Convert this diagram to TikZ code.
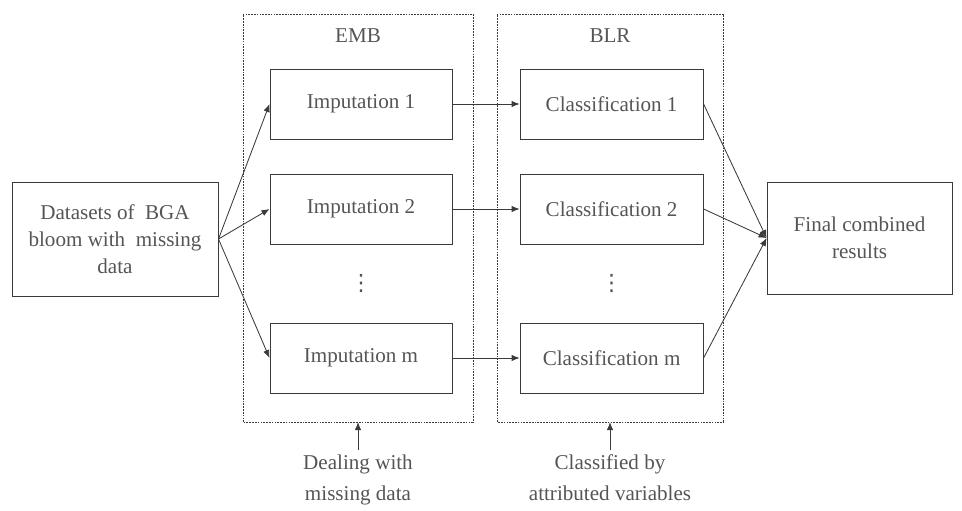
\documentclass[tikz,border=0pt]{standalone}
\usepackage{fontspec}
\setmainfont{Liberation Serif}
\newfontfamily\symfont{DejaVu Sans}
\usetikzlibrary{positioning, arrows.meta, calc}
\usepackage{xcolor}
\definecolor{lineg}{HTML}{3A3A3A}
\definecolor{textg}{HTML}{555555}

\begin{document}
\begin{tikzpicture}[
        box/.style={draw=lineg, line width=0.7pt, text=textg, font=\fontsize{15}{19}\selectfont, align=center, minimum width=4.55cm, minimum height=1.75cm},
        grp/.style={draw=lineg, line width=0.5pt, dash pattern=on 1.2pt off 0.8pt},
        lbl/.style={text=textg, font=\fontsize{15}{22}\selectfont, align=center},
        arr/.style={draw=lineg, line width=0.6pt, -{Latex[length=2mm, width=1.6mm]}}]
      \useasboundingbox (0,0) rectangle (24.05,12.75);
      % dashed groups
      \draw[grp] (6.075,2.2) rectangle (11.825,12.4);
      \draw[grp] (12.425,2.2) rectangle (18.075,12.4);
      \node[lbl] (emb) at (8.95,11.85) {EMB};
      \node[lbl] (blr) at (15.25,11.85) {BLR};
      % boxes
      \node[box, minimum width=5.15cm, minimum height=2.85cm] (data) at (2.875,6.775) {Datasets of~ BGA\\bloom with~ missing\\data};
      \node[box] (imp1) at (9.025,10.15) {Imputation 1};
      \node[box] (imp2) at (9.025,7.525) {Imputation 2};
      \node[lbl, font=\symfont\fontsize{16}{18}\selectfont] (impd) at (9.025,5.65) {⋮};
      \node[box] (impm) at (9.025,3.8) {Imputation m};
      \node[box, minimum width=4.575cm] (cls1) at (15.29,10.15) {Classification 1};
      \node[box, minimum width=4.575cm] (cls2) at (15.29,7.525) {Classification 2};
      \node[lbl, font=\symfont\fontsize{16}{18}\selectfont] (clsd) at (15.29,5.65) {⋮};
      \node[box, minimum width=4.575cm] (clsm) at (15.29,3.8) {Classification m};
      \node[box, minimum width=4.625cm, minimum height=2.8cm] (final) at (21.49,6.8) {Final combined\\results};
      % bottom notes
      \coordinate (embb) at (8.95,2.2);
      \coordinate (blrb) at (15.25,2.2);
      \node[lbl, anchor=north, inner sep=3pt] (deal) at (8.95,1.5) {Dealing with\\missing data};
      \node[lbl, anchor=north, inner sep=3pt] (clsby) at (15.25,1.5) {Classified by\\attributed variables};
      % connectors
      \foreach \n in {imp1, imp2, impm}
        \draw[arr] (data.east) -- (\n.west);
      \draw[arr] (imp1) -- (cls1);
      \draw[arr] (imp2) -- (cls2);
      \draw[arr] (impm) -- (clsm);
      \foreach \n in {cls1, cls2, clsm}
        \draw[arr] (\n.east) -- (final.west);
      \draw[arr] (deal.north) -- (embb);
      \draw[arr] (clsby.north) -- (blrb);
    \end{tikzpicture}
\end{document}
